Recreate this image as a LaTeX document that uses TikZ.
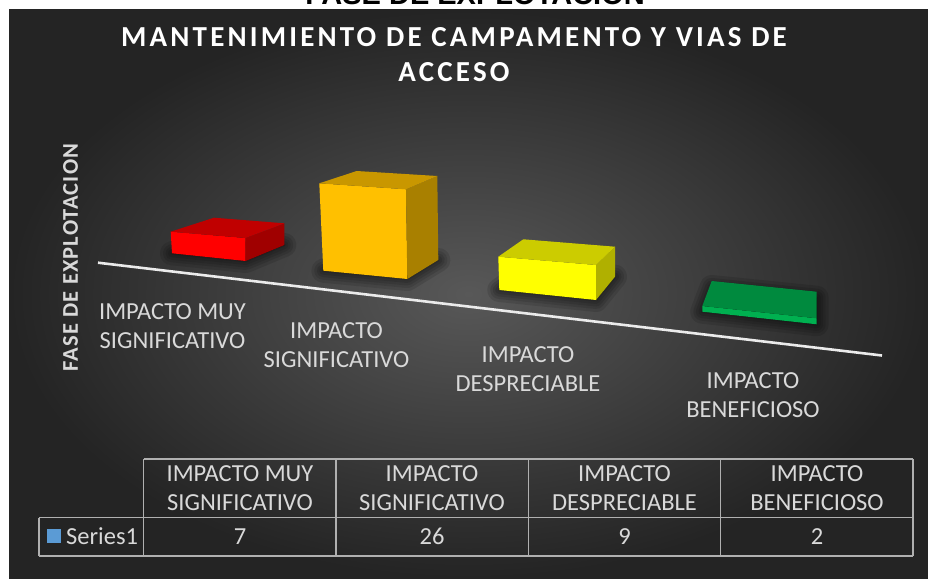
\documentclass[tikz,border=0pt]{standalone}
\usepackage{fontspec}
\setmainfont{Carlito}
\newfontfamily\arialfont{Liberation Sans}
\newfontfamily\titlefont{Carlito}[LetterSpace=11]
\newfontfamily\ytitlefont{Carlito}[LetterSpace=5]
\definecolor{lbltext}{HTML}{D9D9D9}
\definecolor{gridgray}{HTML}{B0B0B0}
\definecolor{bgin}{HTML}{585858}
\definecolor{bgout}{HTML}{242424}
\definecolor{redF}{HTML}{FF0000}
\definecolor{redT}{HTML}{C00000}
\definecolor{redS}{HTML}{A00000}
\definecolor{orF}{HTML}{FFC000}
\definecolor{orT}{HTML}{C99700}
\definecolor{orS}{HTML}{A98000}
\definecolor{yeF}{HTML}{FFFF00}
\definecolor{yeT}{HTML}{CCCC00}
\definecolor{yeS}{HTML}{B0B000}
\definecolor{grF}{HTML}{00B050}
\definecolor{grT}{HTML}{008A3E}
\definecolor{serblue}{HTML}{5B9BD5}
\tikzset{
  lbl/.style={font=\fontsize{24.5}{29}\selectfont, text=lbltext, align=center, inner sep=0pt},
  gridline/.style={draw=gridgray, line width=1.8pt},
  softshadow/.style={fill=black, draw=black, opacity=0.11, line join=round},
}
\newcommand{\barshadow}[4]{%
  \foreach \w in {24,18,13,8,3}{\filldraw[softshadow, line width=\w pt] #1 -- #2 -- #3 -- #4 -- cycle;}%
}
\begin{document}
\begin{tikzpicture}[x=1pt,y=-1pt]
\useasboundingbox (0,0) rectangle (928,578);
\fill[white] (0,0) rectangle (928,578);
\begin{scope}
\clip (0,0) rectangle (928,578);
\node[font=\arialfont\bfseries\fontsize{29}{31}\selectfont, anchor=base, inner sep=0pt] (toptitle) at (475,5) {FASE DE EXPLOTACION};
\end{scope}
% background panel
\shade[inner color=bgin, outer color=bgout] (9,10) rectangle (928,578);
% chart title
\node[font=\titlefont\bfseries\fontsize{29}{35}\selectfont, text=white, align=center, anchor=north, inner sep=0pt] (title) at (454,27.5) {MANTENIMIENTO DE CAMPAMENTO Y VIAS DE\\ACCESO};
% y axis title
\node[font=\ytitlefont\bfseries\fontsize{22.5}{24}\selectfont, text=lbltext, rotate=90, inner sep=0pt] (ytitle) at (70.5,257.5) {FASE DE EXPLOTACION};
% shadows
\barshadow{(172,253.3)}{(245.7,261)}{(284.3,245)}{(215,239)}
\barshadow{(323.3,270.7)}{(407.3,279)}{(438.3,260)}{(360,258)}
\barshadow{(499.3,290)}{(596,300)}{(615,276.7)}{(524,273)}
\barshadow{(702.3,311.7)}{(816.7,324.3)}{(816.7,297.7)}{(711.7,287)}
% axis line
\coordinate (ax1) at (98,262.7);
\coordinate (ax2) at (882,355.5);
\draw[line width=2.6pt, color=white!92!black] (ax1) -- (ax2);
% red bar
\fill[redF] (170.7,231.7) -- (245.7,238) -- (245.7,261) -- (172,253.3) -- cycle;
\fill[redS] (245.7,238) -- (284.3,223.3) -- (284.3,245) -- (245.7,261) -- cycle;
\fill[redT] (170.7,231.7) -- (214,217.7) -- (284.3,223.3) -- (245.7,238) -- cycle;
% orange bar
\fill[orF] (319.3,183.3) -- (406,189.3) -- (407.3,279) -- (323.3,270.7) -- cycle;
\fill[orS] (406,189.3) -- (437.3,176) -- (438.3,260) -- (407.3,279) -- cycle;
\fill[orT] (319.3,183.3) -- (356.7,171) -- (437.3,176) -- (406,189.3) -- cycle;
% yellow bar
\fill[yeF] (498.3,256.7) -- (596,265) -- (596,300) -- (499.3,290) -- cycle;
\fill[yeS] (596,265) -- (615,246.7) -- (615,276.7) -- (596,300) -- cycle;
\fill[yeT] (498.3,256.7) -- (523.3,239.3) -- (615,246.7) -- (596,265) -- cycle;
% green bar
\fill[grF] (702.3,306) -- (816.7,318.3) -- (816.7,324.3) -- (702.3,311.7) -- cycle;
\fill[grT] (702.3,306) -- (711.7,281) -- (816.7,291.7) -- (816.7,318.3) -- cycle;
% category labels
\node[lbl, anchor=north] (c1) at (172.5,303.1) {IMPACTO MUY\\SIGNIFICATIVO};
\node[lbl, anchor=north] (c2) at (336.5,322.1) {IMPACTO\\SIGNIFICATIVO};
\node[lbl, anchor=north] (c3) at (528,346.1) {IMPACTO\\DESPRECIABLE};
\node[lbl, anchor=north] (c4) at (753,372.1) {IMPACTO\\BENEFICIOSO};
% data table grid
\draw[gridline] (143.5,459) -- (913,459);
\draw[gridline] (39,517.5) -- (913,517.5);
\draw[gridline] (39,556) -- (913,556);
\draw[gridline] (39,517.5) -- (39,556);
\draw[gridline] (143.5,459) -- (143.5,556);
\draw[gridline] (336,459) -- (336,556);
\draw[gridline] (528.5,459) -- (528.5,556);
\draw[gridline] (720.5,459) -- (720.5,556);
\draw[gridline] (913,459) -- (913,556);
% table headers
\node[lbl, anchor=north] (h1) at (240,465.1) {IMPACTO MUY\\SIGNIFICATIVO};
\node[lbl, anchor=north] (h2) at (432,465.1) {IMPACTO\\SIGNIFICATIVO};
\node[lbl, anchor=north] (h3) at (624.5,465.1) {IMPACTO\\DESPRECIABLE};
\node[lbl, anchor=north] (h4) at (817,465.1) {IMPACTO\\BENEFICIOSO};
% series row
\fill[serblue] (47,529) rectangle (61,543);
\node[lbl, anchor=west] (ser) at (66,536.5) {Series1};
\node[lbl] (v1) at (240,536.5) {7};
\node[lbl] (v2) at (432,536.5) {26};
\node[lbl] (v3) at (624.5,536.5) {9};
\node[lbl] (v4) at (817,536.5) {2};
\end{tikzpicture}
\end{document}
